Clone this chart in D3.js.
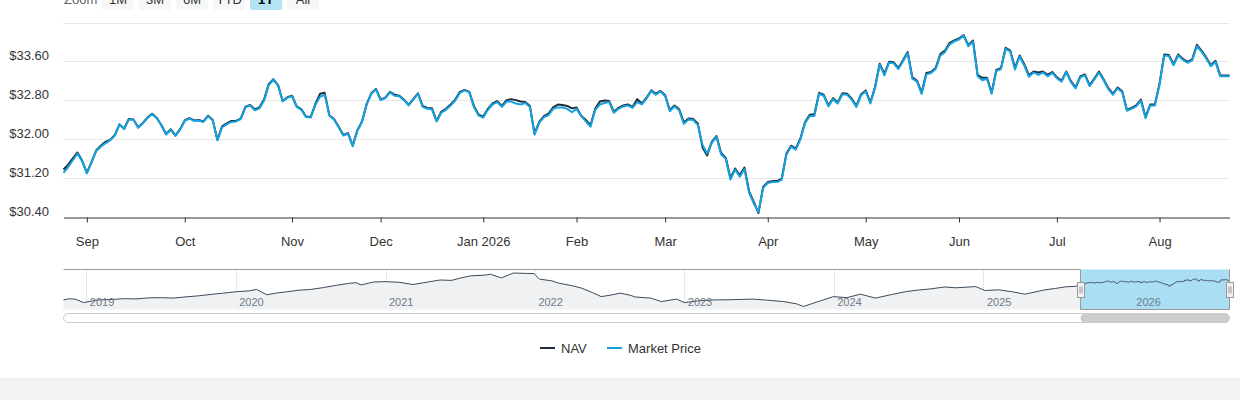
<!DOCTYPE html>
<html>
<head>
<meta charset="utf-8">
<script src="https://cdn.jsdelivr.net/npm/d3@7"></script>
<style>
  body { margin: 0; background: #fff; }
  svg { display: block; font-family: "Liberation Sans", Arial, Helvetica, sans-serif; }
</style>
</head>
<body>
<div id="chart"></div>
<script>
// trading days per month shown in the 1Y window (Aug 2025 partial ... Aug 2026 partial)
const tradingDaysPerMonth = [5, 21, 23, 19, 22, 20, 19, 22, 21, 20, 21, 22, 16];
const monthLabels = ['', 'Sep', 'Oct', 'Nov', 'Dec', 'Jan 2026', 'Feb', 'Mar', 'Apr', 'May', 'Jun', 'Jul', 'Aug'];
const yTicks = [30.4, 31.2, 32.0, 32.8, 33.6, 34.4];
const zoomButtons = ['1M', '3M', '6M', 'YTD', '1Y', 'All'];
const selectedButton = '1Y';
const seriesStart = '2025-08-25';
const seriesEnd = '2026-08-24';

const marketPrice = [
  31.31, 31.43, 31.57, 31.71, 31.55,
  31.30, 31.52, 31.76, 31.85, 31.92, 31.98, 32.08, 32.31, 32.22, 32.41, 32.41, 32.24, 32.33, 32.44, 32.52, 32.44, 32.29, 32.10, 32.20, 32.07, 32.20,
  32.38, 32.43, 32.38, 32.39, 32.36, 32.48, 32.39, 31.98, 32.25, 32.31, 32.36, 32.37, 32.42, 32.66, 32.70, 32.60, 32.64, 32.80, 33.12, 33.23, 33.11, 32.78, 32.86,
  32.89, 32.67, 32.61, 32.46, 32.45, 32.71, 32.88, 32.92, 32.49, 32.41, 32.25, 32.08, 32.12, 31.86, 32.18, 32.36, 32.72, 32.94, 33.03,
  32.81, 32.85, 32.97, 32.90, 32.89, 32.81, 32.70, 32.82, 32.94, 32.67, 32.63, 32.62, 32.37, 32.55, 32.61, 32.70, 32.80, 32.96, 33.01, 32.97, 32.67, 32.49,
  32.45, 32.61, 32.72, 32.77, 32.67, 32.78, 32.78, 32.74, 32.72, 32.75, 32.67, 32.10, 32.34, 32.46, 32.50, 32.63, 32.66, 32.66, 32.63, 32.56,
  32.63, 32.48, 32.37, 32.26, 32.61, 32.72, 32.75, 32.77, 32.55, 32.63, 32.68, 32.70, 32.65, 32.77, 32.72, 32.84, 33.00, 32.92, 32.99,
  32.89, 32.58, 32.68, 32.60, 32.32, 32.41, 32.40, 32.30, 31.89, 31.71, 31.93, 32.05, 31.69, 31.60, 31.17, 31.38, 31.23, 31.39, 30.90, 30.68, 30.50, 31.00,
  31.10, 31.12, 31.12, 31.17, 31.69, 31.85, 31.79, 32.00, 32.34, 32.48, 32.48, 32.94, 32.90, 32.68, 32.83, 32.74, 32.93, 32.92, 32.82, 32.67, 32.91,
  32.99, 32.74, 33.06, 33.54, 33.32, 33.58, 33.57, 33.45, 33.61, 33.78, 33.25, 33.19, 32.94, 33.34, 33.37, 33.45, 33.73, 33.80, 33.96, 34.02,
  34.06, 34.14, 33.92, 34.02, 33.30, 33.22, 33.25, 32.94, 33.41, 33.45, 33.87, 33.81, 33.44, 33.71, 33.52, 33.29, 33.38, 33.33, 33.38, 33.30, 33.37,
  33.26, 33.19, 33.39, 33.18, 33.05, 33.28, 33.32, 33.10, 33.23, 33.38, 33.22, 33.04, 32.92, 33.05, 32.97, 32.59, 32.63, 32.68, 32.80, 32.44, 32.70, 32.70,
  33.13, 33.73, 33.72, 33.53, 33.73, 33.64, 33.58, 33.63, 33.92, 33.81, 33.67, 33.51, 33.60, 33.30, 33.30, 33.30
];

const nav = [
  31.38, 31.48, 31.61, 31.73, 31.56,
  31.31, 31.53, 31.77, 31.87, 31.95, 31.99, 32.09, 32.31, 32.22, 32.42, 32.41, 32.25, 32.34, 32.45, 32.53, 32.44, 32.29, 32.11, 32.21, 32.08, 32.21,
  32.39, 32.44, 32.39, 32.40, 32.37, 32.49, 32.40, 31.99, 32.27, 32.33, 32.38, 32.38, 32.43, 32.67, 32.71, 32.62, 32.66, 32.82, 33.14, 33.24, 33.12, 32.79, 32.87,
  32.90, 32.68, 32.62, 32.47, 32.46, 32.73, 32.94, 32.96, 32.50, 32.42, 32.26, 32.09, 32.13, 31.87, 32.19, 32.37, 32.73, 32.95, 33.04,
  32.82, 32.86, 32.98, 32.92, 32.90, 32.82, 32.71, 32.83, 32.95, 32.69, 32.65, 32.64, 32.38, 32.57, 32.63, 32.72, 32.82, 32.98, 33.02, 32.98, 32.69, 32.51,
  32.47, 32.63, 32.74, 32.79, 32.69, 32.81, 32.83, 32.81, 32.78, 32.77, 32.69, 32.12, 32.36, 32.48, 32.53, 32.66, 32.72, 32.71, 32.69, 32.64,
  32.66, 32.49, 32.40, 32.29, 32.63, 32.78, 32.80, 32.79, 32.57, 32.65, 32.70, 32.72, 32.67, 32.83, 32.74, 32.86, 33.01, 32.94, 33.00,
  32.91, 32.60, 32.70, 32.62, 32.35, 32.43, 32.42, 32.33, 31.84, 31.67, 31.95, 32.07, 31.72, 31.62, 31.20, 31.40, 31.26, 31.42, 30.93, 30.71, 30.48, 31.02,
  31.12, 31.14, 31.14, 31.19, 31.71, 31.87, 31.81, 32.02, 32.36, 32.51, 32.52, 32.96, 32.92, 32.70, 32.85, 32.76, 32.95, 32.94, 32.84, 32.69, 32.93,
  33.01, 32.76, 33.08, 33.56, 33.35, 33.60, 33.59, 33.47, 33.63, 33.80, 33.28, 33.21, 32.96, 33.37, 33.39, 33.47, 33.76, 33.83, 33.99, 34.04,
  34.08, 34.15, 33.94, 34.04, 33.33, 33.27, 33.27, 32.96, 33.43, 33.47, 33.89, 33.83, 33.47, 33.73, 33.55, 33.32, 33.40, 33.38, 33.40, 33.33, 33.39,
  33.28, 33.21, 33.40, 33.20, 33.07, 33.30, 33.34, 33.12, 33.25, 33.40, 33.24, 33.06, 32.94, 33.07, 32.99, 32.61, 32.65, 32.70, 32.82, 32.46, 32.72, 32.72,
  33.15, 33.75, 33.74, 33.55, 33.75, 33.66, 33.60, 33.65, 33.95, 33.83, 33.69, 33.53, 33.62, 33.32, 33.32, 33.32
];

// longer NAV history, only used by the navigator strip
const historyDates = [
  '2018-11-05', '2018-11-20', '2018-12-05', '2018-12-24', '2019-01-28', '2019-03-01', '2019-04-01', '2019-05-01',
  '2019-06-01', '2019-07-01', '2019-08-01', '2019-09-01', '2019-10-01', '2019-11-01', '2019-12-01', '2020-01-01',
  '2020-02-01', '2020-02-20', '2020-03-16', '2020-04-10', '2020-05-01', '2020-06-01', '2020-07-01', '2020-08-01',
  '2020-09-01', '2020-10-01', '2020-10-20', '2020-11-01', '2020-12-01', '2021-01-01', '2021-02-01', '2021-03-08',
  '2021-04-01', '2021-05-13', '2021-06-10', '2021-07-01', '2021-07-26', '2021-09-01', '2021-09-13', '2021-10-10',
  '2021-11-08', '2021-12-10', '2021-12-29', '2022-01-11', '2022-02-10', '2022-02-26', '2022-04-01', '2022-04-23',
  '2022-05-20', '2022-06-11', '2022-07-08', '2022-07-28', '2022-08-20', '2022-09-03', '2022-10-10', '2022-11-05',
  '2022-12-12', '2022-12-31', '2023-02-01', '2023-03-13', '2023-04-20', '2023-06-17', '2023-07-20', '2023-08-30',
  '2023-10-01', '2023-10-18', '2023-11-23', '2023-12-30', '2024-02-01', '2024-03-05', '2024-04-11', '2024-05-20',
  '2024-06-26', '2024-07-25', '2024-08-25', '2024-09-27', '2024-10-25', '2024-12-12', '2025-01-03', '2025-02-06',
  '2025-03-10', '2025-04-11', '2025-05-30', '2025-06-25', '2025-07-20', '2025-08-11', '2025-08-20'
];
const historyNav = [
  23.9, 24.5, 24.2, 22.6, 23.9, 24.1, 24.5, 24.4,
  24.9, 25.0, 24.8, 25.4, 25.9, 26.6, 27.2, 27.9,
  28.3, 29.0, 26.4, 27.3, 27.8, 28.6, 29.0, 29.9,
  31.0, 31.9, 32.3, 31.2, 32.6, 32.8, 32.5, 31.4,
  32.2, 33.6, 33.4, 34.5, 35.6, 36.0, 36.4, 34.6,
  37.0, 36.8, 36.7, 34.0, 33.2, 32.1, 30.8, 29.7,
  27.5, 25.5, 26.4, 27.2, 26.2, 25.3, 24.8, 23.1,
  24.3, 22.6, 23.4, 23.9, 24.0, 24.3, 23.8, 23.1,
  22.0, 20.7, 23.1, 25.5, 25.0, 26.7, 24.8, 26.5,
  28.0, 28.7, 29.3, 30.2, 29.8, 30.4, 28.5, 28.8,
  27.9, 26.7, 28.8, 29.5, 30.3, 30.5, 30.9
];

const width = 1240;
const height = 400;
const plotLeft = 63.5;
const plotRight = 1229.5;
const plotTop = 23;
const plotBottom = 217;
const navTop = 269.5;
const navBottom = 309.5;

const navColor = '#1f2b38';
const marketColor = '#15a2e0';
const crisp = (v) => Math.floor(v) + 0.5;

const svg = d3.select('#chart')
  .append('svg')
  .attr('width', width)
  .attr('height', height);

// grey footer band
svg.append('rect')
  .attr('x', 0).attr('y', 378)
  .attr('width', width).attr('height', height - 378)
  .attr('fill', '#f2f2f2');

// range selector row (partly cut off at the top, as in the original)
svg.append('text')
  .attr('x', 64).attr('y', 4)
  .attr('fill', '#666')
  .attr('font-size', 13)
  .text('Zoom');

const btn = svg.append('g')
  .selectAll('g')
  .data(zoomButtons)
  .join('g')
  .attr('transform', (d, i) => `translate(${102 + i * 37},-12)`);

btn.append('rect')
  .attr('width', 32).attr('height', 22).attr('rx', 2)
  .attr('fill', (d) => (d === selectedButton ? '#b2e4f6' : '#f7f7f7'));

btn.append('text')
  .attr('x', 16).attr('y', 16)
  .attr('text-anchor', 'middle')
  .attr('font-size', 13)
  .attr('font-weight', (d) => (d === selectedButton ? 'bold' : 'normal'))
  .attr('fill', (d) => (d === selectedButton ? '#000' : '#333'))
  .text((d) => d);

// main chart scales
const x = d3.scaleLinear()
  .domain([0, marketPrice.length - 1])
  .range([plotLeft, plotRight]);

const y = d3.scaleLinear()
  .domain([yTicks[0], yTicks[yTicks.length - 1]])
  .range([plotBottom, plotTop]);

// gridlines + y labels (top label hidden like the original)
svg.append('g')
  .selectAll('line')
  .data(yTicks.slice(1))
  .join('line')
  .attr('x1', plotLeft).attr('x2', plotRight)
  .attr('y1', (d) => crisp(y(d))).attr('y2', (d) => crisp(y(d)))
  .attr('stroke', '#e6e6e6');

svg.append('g')
  .selectAll('text')
  .data(yTicks.slice(0, -1))
  .join('text')
  .attr('x', 49)
  .attr('y', (d) => crisp(y(d)) - 2)
  .attr('text-anchor', 'end')
  .attr('font-size', 13)
  .attr('fill', '#333')
  .text((d) => '$' + d.toFixed(2));

// month ticks on the ordinal (trading day) axis
const monthStarts = Array.from(d3.cumsum(tradingDaysPerMonth)).slice(0, -1);
const tickLabelAt = new Map(monthStarts.map((idx, k) => [idx, monthLabels[k + 1]]));

const xAxis = svg.append('g')
  .attr('transform', `translate(0,${crisp(plotBottom)})`)
  .call(d3.axisBottom(x)
    .tickValues(monthStarts)
    .tickFormat((d) => tickLabelAt.get(d))
    .tickSizeInner(5)
    .tickSizeOuter(0)
    .tickPadding(14));

xAxis.select('.domain').attr('stroke', '#333');
xAxis.selectAll('.tick line').attr('stroke', '#333');
xAxis.selectAll('.tick text')
  .attr('font-size', 13)
  .attr('font-family', '"Liberation Sans", Arial, Helvetica, sans-serif')
  .attr('fill', '#333');

// lines
const line = d3.line()
  .x((d, i) => x(i))
  .y((d) => y(d));

svg.append('path')
  .datum(nav)
  .attr('d', line)
  .attr('fill', 'none')
  .attr('stroke', navColor)
  .attr('stroke-width', 2)
  .attr('stroke-linejoin', 'round');

svg.append('path')
  .datum(marketPrice)
  .attr('d', line)
  .attr('fill', 'none')
  .attr('stroke', marketColor)
  .attr('stroke-width', 2)
  .attr('stroke-linejoin', 'round');

// navigator
const parse = d3.utcParse('%Y-%m-%d');
const startDate = parse(seriesStart);
const endDate = parse(seriesEnd);

const navX = d3.scaleUtc()
  .domain([parse(historyDates[0]), endDate])
  .range([plotLeft, plotRight]);

const navPoints = historyDates.map((d, i) => ({ x: navX(parse(d)), v: historyNav[i] }));
const x0 = navX(startDate);
const x1 = navX(endDate);
nav.forEach((v, i) => {
  navPoints.push({ x: x0 + (i / (nav.length - 1)) * (x1 - x0), v });
});

const navY = d3.scaleLinear()
  .domain(d3.extent(navPoints, (d) => d.v))
  .range([306.5, 273]);

const navG = svg.append('g');

// year gridlines
const years = navX.ticks(d3.utcYear.every(1));
navG.selectAll('line.year')
  .data(years)
  .join('line')
  .attr('class', 'year')
  .attr('x1', (d) => crisp(navX(d))).attr('x2', (d) => crisp(navX(d)))
  .attr('y1', navTop).attr('y2', navBottom)
  .attr('stroke', '#e6e6e6');

navG.append('path')
  .datum(navPoints)
  .attr('d', d3.area().x((d) => d.x).y0(navBottom).y1((d) => navY(d.v)))
  .attr('fill', '#f0f1f3');

// selected range mask
navG.append('rect')
  .attr('x', x0).attr('y', navTop)
  .attr('width', x1 - x0).attr('height', navBottom - navTop)
  .attr('fill', '#a9def5');

navG.append('path')
  .datum(navPoints)
  .attr('d', d3.line().x((d) => d.x).y((d) => navY(d.v)))
  .attr('fill', 'none')
  .attr('stroke', '#3d4b5a')
  .attr('stroke-width', 1);

navG.selectAll('text.year')
  .data(years)
  .join('text')
  .attr('class', 'year')
  .attr('x', (d) => navX(d) + 3)
  .attr('y', 306)
  .attr('font-size', 11)
  .attr('fill', '#6d7b8a')
  .text(d3.utcFormat('%Y'));

// outline around the unselected part
navG.append('path')
  .attr('d', `M${plotLeft},${navTop}H${crisp(x0)}V${navBottom}H${crisp(x1)}V${navTop}H${plotRight + 0.5}`)
  .attr('fill', 'none')
  .attr('stroke', '#999');

// handles
const handle = navG.selectAll('g.handle')
  .data([x0, x1])
  .join('g')
  .attr('class', 'handle')
  .attr('transform', (d) => `translate(${Math.round(d) - 3.5},${282.5})`);

handle.append('rect')
  .attr('width', 7).attr('height', 15)
  .attr('fill', '#f2f2f2').attr('stroke', '#999');
handle.append('path')
  .attr('d', 'M2.5,4V11M4.5,4V11')
  .attr('stroke', '#999');

// scrollbar
svg.append('rect')
  .attr('x', plotLeft).attr('y', 313.5)
  .attr('width', plotRight - plotLeft).attr('height', 9)
  .attr('rx', 4.5)
  .attr('fill', '#fff').attr('stroke', '#ccc');

svg.append('rect')
  .attr('x', x0).attr('y', 313.5)
  .attr('width', x1 - x0).attr('height', 9)
  .attr('rx', 4.5)
  .attr('fill', '#cccccc');

// legend
const legendItems = [
  { name: 'NAV', color: navColor, x: 540 },
  { name: 'Market Price', color: marketColor, x: 607 }
];

const legend = svg.append('g')
  .selectAll('g')
  .data(legendItems)
  .join('g')
  .attr('transform', (d) => `translate(${d.x},348)`);

legend.append('line')
  .attr('x1', 0).attr('x2', 15)
  .attr('stroke', (d) => d.color)
  .attr('stroke-width', 2);

legend.append('text')
  .attr('x', 21).attr('y', 5)
  .attr('font-size', 13)
  .attr('fill', '#333')
  .text((d) => d.name);
</script>
</body>
</html>
